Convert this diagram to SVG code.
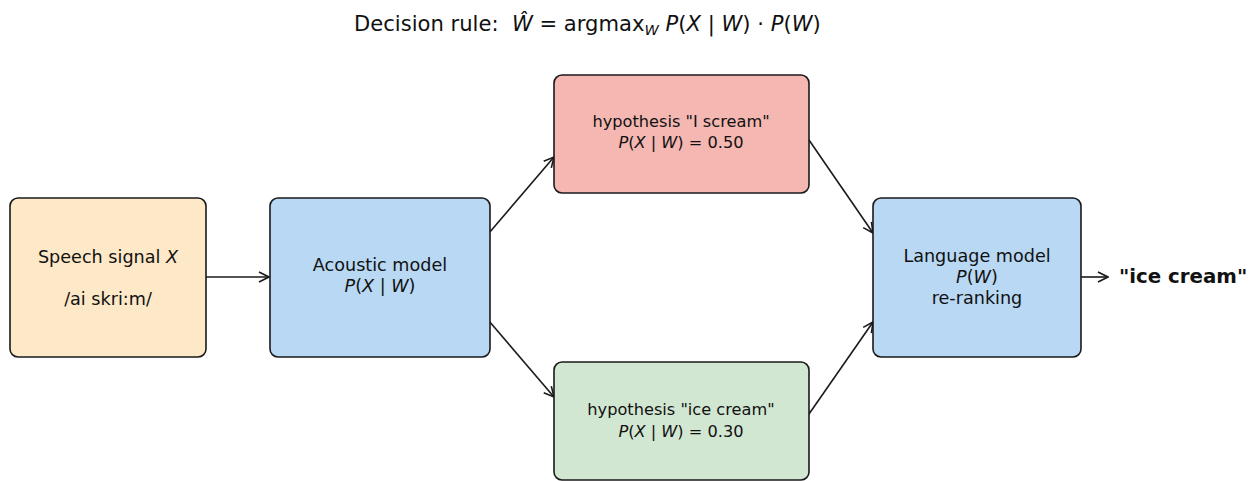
<svg xmlns="http://www.w3.org/2000/svg" width="1258" height="481" viewBox="0 0 1258 481">
  <style>
    text { font-family: "DejaVu Sans", "Liberation Sans", sans-serif; fill: #111; }
    .box { stroke: #1a1a1a; stroke-width: 1.6; }
    .lbl { font-size: 17.6px; text-anchor: middle; }
    .hyp { font-size: 16.2px; text-anchor: middle; }
    .title { font-size: 21.1px; }
    .it { font-style: italic; }
    .edge { stroke: #1a1a1a; stroke-width: 1.6; fill: none; marker-end: url(#head); }
  </style>
  <defs>
    <marker id="head" viewBox="0 0 12 12" refX="11" refY="6" markerWidth="12" markerHeight="12" markerUnits="userSpaceOnUse" orient="auto">
      <path d="M1,1 L11,6 L1,11" fill="none" stroke="#1a1a1a" stroke-width="1.6"/>
    </marker>
  </defs>

  <rect width="1258" height="481" fill="#ffffff"/>

  <!-- title: decision rule -->
  <g id="title">
    <text class="title" x="354" y="31" xml:space="preserve">Decision rule:  <tspan class="it">Ŵ</tspan> = argmax<tspan class="it" font-size="14.5px" dy="4">W</tspan><tspan dy="-4"> </tspan><tspan class="it">P</tspan>(<tspan class="it">X</tspan> | <tspan class="it">W</tspan>) · <tspan class="it">P</tspan>(<tspan class="it">W</tspan>)</text>
  </g>

  <g id="connectors">
    <line class="edge" x1="206" y1="277" x2="269" y2="277"/>
    <line class="edge" x1="489" y1="233" x2="554" y2="157"/>
    <line class="edge" x1="489" y1="321" x2="554" y2="397"/>
    <line class="edge" x1="809" y1="140" x2="873" y2="233"/>
    <line class="edge" x1="809" y1="414" x2="873" y2="322"/>
    <line class="edge" x1="1078" y1="277" x2="1108" y2="277"/>
  </g>

  <g id="speech">
    <rect class="box" x="10" y="198" width="196" height="159" rx="8" fill="#fde8c8"/>
    <text class="lbl" x="108" y="263">Speech signal <tspan class="it">X</tspan></text>
    <text class="lbl" x="108" y="305">/ai skri:m/</text>
  </g>

  <g id="acoustic">
    <rect class="box" x="270" y="198" width="220" height="159" rx="8" fill="#b8d8f4"/>
    <text class="lbl" x="380" y="271">Acoustic model</text>
    <text class="lbl" x="380" y="292"><tspan class="it">P</tspan>(<tspan class="it">X</tspan> | <tspan class="it">W</tspan>)</text>
  </g>

  <g id="hyp-scream">
    <rect class="box" x="554" y="75" width="255" height="118" rx="8" fill="#f5b7b1"/>
    <text class="hyp" x="681" y="127">hypothesis "I scream"</text>
    <text class="hyp" x="681" y="148"><tspan class="it">P</tspan>(<tspan class="it">X</tspan> | <tspan class="it">W</tspan>) = 0.50</text>
  </g>

  <g id="hyp-icecream">
    <rect class="box" x="554" y="362" width="255" height="118" rx="8" fill="#d1e7d1"/>
    <text class="hyp" x="681" y="415">hypothesis "ice cream"</text>
    <text class="hyp" x="681" y="437"><tspan class="it">P</tspan>(<tspan class="it">X</tspan> | <tspan class="it">W</tspan>) = 0.30</text>
  </g>

  <g id="language">
    <rect class="box" x="873" y="198" width="208" height="159" rx="8" fill="#b8d8f4"/>
    <text class="lbl" x="977" y="262">Language model</text>
    <text class="lbl" x="977" y="283"><tspan class="it">P</tspan>(<tspan class="it">W</tspan>)</text>
    <text class="lbl" x="977" y="304">re-ranking</text>
  </g>

  <g id="output">
    <text x="1119" y="283" font-size="19.8px" font-weight="bold">"ice cream"</text>
  </g>
</svg>
